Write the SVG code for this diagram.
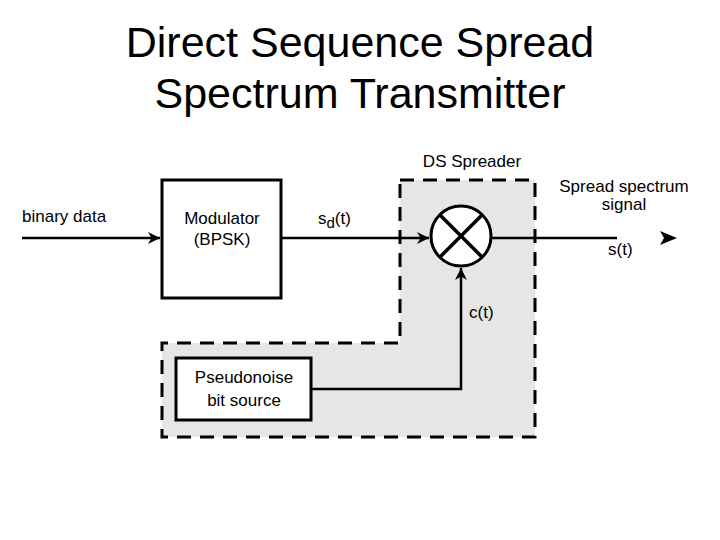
<svg xmlns="http://www.w3.org/2000/svg" width="720" height="540" viewBox="0 0 720 540">
<style>
text{font-family:"Liberation Sans",Arial,sans-serif;fill:#000}
.t{font-size:17px}
.box{fill:#fff;stroke:#000;stroke-width:3}
.ln{fill:none;stroke:#000;stroke-width:2.5}
</style>
<defs>
<marker id="b" viewBox="0 0 10 10" refX="10" refY="5" markerWidth="16" markerHeight="12" orient="auto" markerUnits="userSpaceOnUse"><path d="M0,0L10,5L0,10L3,5z" fill="#000"/></marker>
</defs>
<rect width="720" height="540" fill="#fff"/>
<text x="360" y="57" font-size="43" text-anchor="middle">Direct Sequence Spread</text>
<text x="360" y="108" font-size="43" text-anchor="middle">Spectrum Transmitter</text>
<g id="spreader">
<path d="M400,180H535V437H162V343H400Z" fill="#e6e6e6" stroke="#000" stroke-width="3" stroke-dasharray="14,9"/>
<text class="t" x="472" y="167" text-anchor="middle">DS Spreader</text>
</g>
<g id="connectors">
<line class="ln" x1="22" y1="238" x2="160" y2="238" marker-end="url(#b)"/>
<line class="ln" x1="281" y1="238" x2="429" y2="238" marker-end="url(#b)"/>
<line class="ln" x1="491" y1="238" x2="617" y2="238"/>
<path d="M660,231L677,238L660,245L664,238z" fill="#000"/>
<path class="ln" d="M311,389H461V268" marker-end="url(#b)"/>
</g>
<g id="modulator">
<rect class="box" x="162" y="180" width="119" height="118"/>
<text class="t" x="222" y="224" text-anchor="middle">Modulator</text>
<text class="t" x="222" y="245" text-anchor="middle">(BPSK)</text>
</g>
<g id="mixer">
<circle cx="461" cy="236" r="30" fill="#fff" stroke="#000" stroke-width="3"/>
<path d="M440,215L482,257M482,215L440,257" stroke="#000" stroke-width="3.5"/>
</g>
<g id="pn">
<rect class="box" x="176" y="358" width="135" height="62"/>
<text class="t" x="244" y="383" text-anchor="middle">Pseudonoise</text>
<text class="t" x="244" y="406" text-anchor="middle">bit source</text>
</g>
<text class="t" x="22" y="222">binary data</text>
<text class="t" x="318" y="224">s<tspan font-size="15" dy="4">d</tspan><tspan dy="-4">(t)</tspan></text>
<text class="t" x="624" y="192" text-anchor="middle">Spread spectrum</text>
<text class="t" x="624" y="210" text-anchor="middle">signal</text>
<text class="t" x="608" y="255">s(t)</text>
<text class="t" x="469" y="318">c(t)</text>
</svg>
